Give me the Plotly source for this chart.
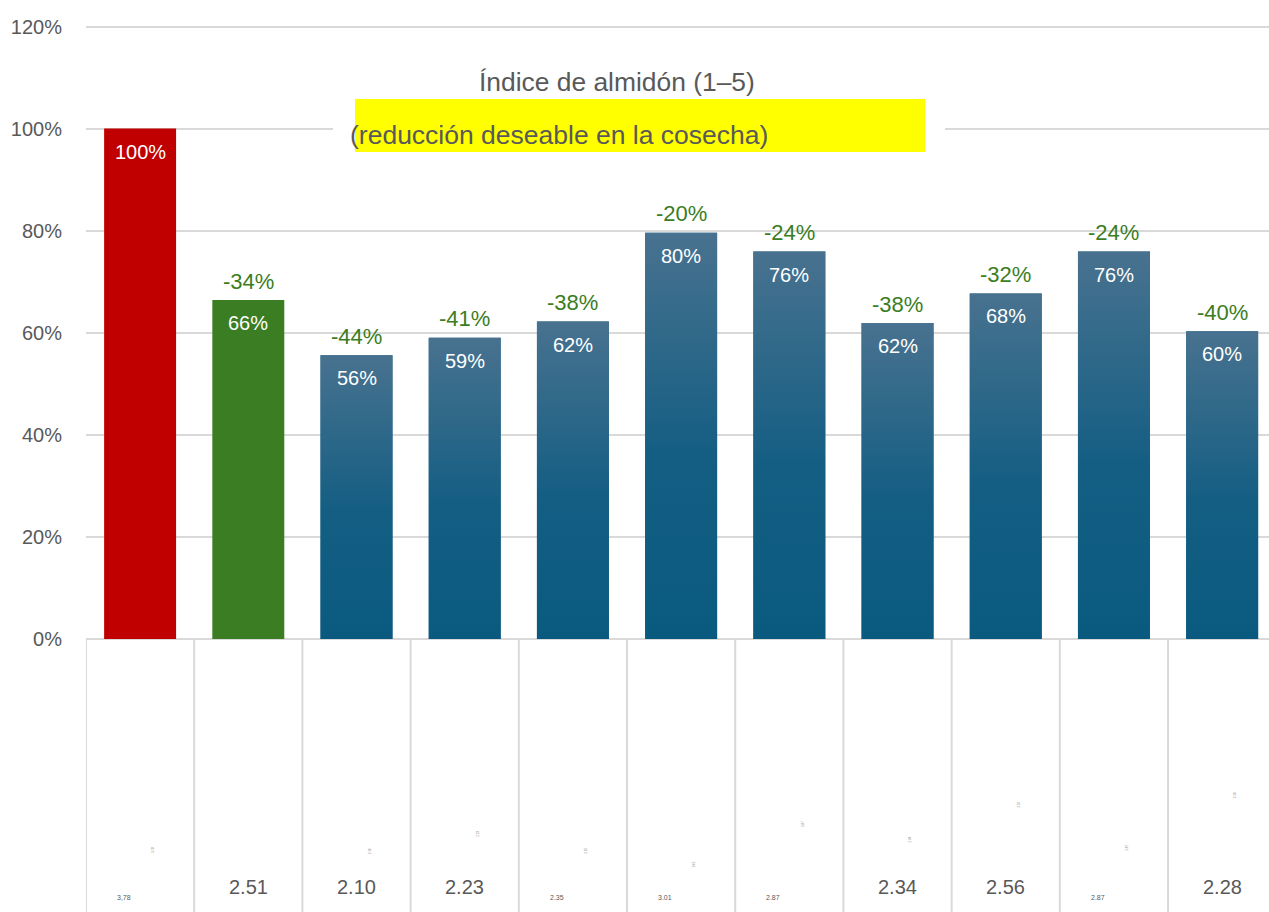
import plotly.graph_objects as go

# ---------------- data ----------------
positions = list(range(11))
values = [100, 66.4, 55.6, 59.0, 62.2, 79.6, 75.9, 61.9, 67.7, 75.9, 60.3]
inside_labels = ["100%", "66%", "56%", "59%", "62%", "80%", "76%", "62%", "68%", "76%", "60%"]
change_labels = [None, "-34%", "-44%", "-41%", "-38%", "-20%", "-24%", "-38%", "-32%", "-24%", "-40%"]
index_values = ["3,78", "2.51", "2.10", "2.23", "2.35", "3.01", "2.87", "2.34", "2.56", "2.87", "2.28"]
index_is_small = [True, False, False, False, True, True, True, False, False, True, False]
hidden_levels = [-41.3, None, -41.7, -38.2, -41.5, -44.1, -36.2, -39.4, -32.5, -40.9, -30.6]
bar_kinds = ["ref", "best"] + ["other"] * 9
y_ticks = [0, 20, 40, 60, 80, 100, 120]
y_tick_text = ["0%", "20%", "40%", "60%", "80%", "100%", "120%"]
title_line1 = "Índice de almidón (1–5)"
title_line2 = "(reducción deseable en la cosecha)"

# ---------------- style ----------------
FONT = "Liberation Sans, Arial, Helvetica, sans-serif"
GRAY = "#595959"
GRID = "#d9d9d9"
GREEN_TXT = "#3b7d23"
kind_color = {"ref": "#c00000", "best": "#3b7d23", "other": "#1b6186"}
BAR_W = 0.665
Y_MIN, Y_MAX = -53.5, 125.2
X_MIN, X_MAX = -0.5, 10.433
L_MARGIN = 86
W, H = 1269, 912


def px_x(p):
    return (p - L_MARGIN) / (W - L_MARGIN)


def px_y(p):
    return 1 - p / H


fig = go.Figure()

fig.add_trace(go.Bar(
    x=positions, y=values, width=BAR_W,
    marker=dict(color=[kind_color[k] for k in bar_kinds], line=dict(width=0)),
    hoverinfo="skip", showlegend=False,
))

# gradient-filled blue bars
for x, v, k in zip(positions, values, bar_kinds):
    if k != "other":
        continue
    xl, xr = x - BAR_W / 2, x + BAR_W / 2
    fig.add_trace(go.Scatter(
        x=[xl, xr, xr, xl, xl], y=[0, 0, v, v, 0],
        mode="lines", line=dict(width=0), fill="toself",
        fillgradient=dict(type="vertical",
                          colorscale=[[0, "#0a5a80"], [0.45, "#145e83"], [1, "#48728f"]]),
        hoverinfo="skip", showlegend=False,
    ))

annotations = []
for x, v, lab in zip(positions, values, inside_labels):
    annotations.append(dict(x=x, y=v, text=lab, showarrow=False, yshift=-23,
                            font=dict(family=FONT, size=20, color="white")))
for x, v, lab in zip(positions, values, change_labels):
    if lab:
        annotations.append(dict(x=x, y=v, text=lab, showarrow=False, yshift=19,
                                font=dict(family=FONT, size=22, color=GREEN_TXT)))
for x, lab, small in zip(positions, index_values, index_is_small):
    if small:
        annotations.append(dict(x=x, y=-50.6, text=lab, showarrow=False, xshift=-16,
                                font=dict(family=FONT, size=7, color=GRAY)))
    else:
        annotations.append(dict(x=x, y=-48.6, text=lab, showarrow=False,
                                font=dict(family=FONT, size=20, color=GRAY)))
for x, lvl, lab in zip(positions, hidden_levels, index_values):
    if lvl is not None:
        annotations.append(dict(x=x, y=lvl, text=lab, showarrow=False, xshift=13,
                                textangle=-90,
                                font=dict(family=FONT, size=3, color="#888888")))

annotations.append(dict(xref="paper", yref="paper", x=px_x(617), y=px_y(82),
                        xanchor="center", yanchor="middle",
                        text=title_line1, showarrow=False,
                        font=dict(family=FONT, size=26.4, color=GRAY)))
annotations.append(dict(xref="paper", yref="paper", x=px_x(348), y=px_y(135),
                        xanchor="left", yanchor="middle", text=title_line2, showarrow=False,
                        font=dict(family=FONT, size=26.5, color=GRAY)))

shapes = []
# table column separators below the axis
for i in range(len(positions) + 1):
    shapes.append(dict(type="line", xref="x", yref="y", x0=i - 0.5, x1=i - 0.5,
                       y0=0, y1=Y_MIN, line=dict(color=GRID, width=2), layer="below"))
# white box hiding the gridline behind the title, and yellow highlight
shapes.append(dict(type="rect", xref="paper", yref="paper",
                   x0=px_x(333), x1=px_x(945), y0=px_y(165), y1=px_y(60),
                   fillcolor="white", line=dict(width=0), layer="above"))
shapes.append(dict(type="rect", xref="paper", yref="paper",
                   x0=px_x(355), x1=px_x(925), y0=px_y(152), y1=px_y(99),
                   fillcolor="#ffff00", line=dict(width=0), layer="above"))

fig.update_layout(
    width=W, height=H,
    margin=dict(l=L_MARGIN, r=0, t=0, b=0, autoexpand=False),
    paper_bgcolor="white", plot_bgcolor="white",
    bargap=0.335,
    showlegend=False,
    annotations=annotations,
    shapes=shapes,
    xaxis=dict(range=[X_MIN, X_MAX], showticklabels=False, showgrid=False,
               zeroline=False, showline=False, fixedrange=True),
    yaxis=dict(range=[Y_MIN, Y_MAX], tickvals=y_ticks, ticktext=y_tick_text,
               showgrid=True, gridcolor=GRID, gridwidth=1.5,
               zeroline=False, showline=False, ticks="", ticklabelstandoff=23,
               tickfont=dict(family=FONT, size=20, color=GRAY), automargin=False),
)

fig.write_html("out.html")
